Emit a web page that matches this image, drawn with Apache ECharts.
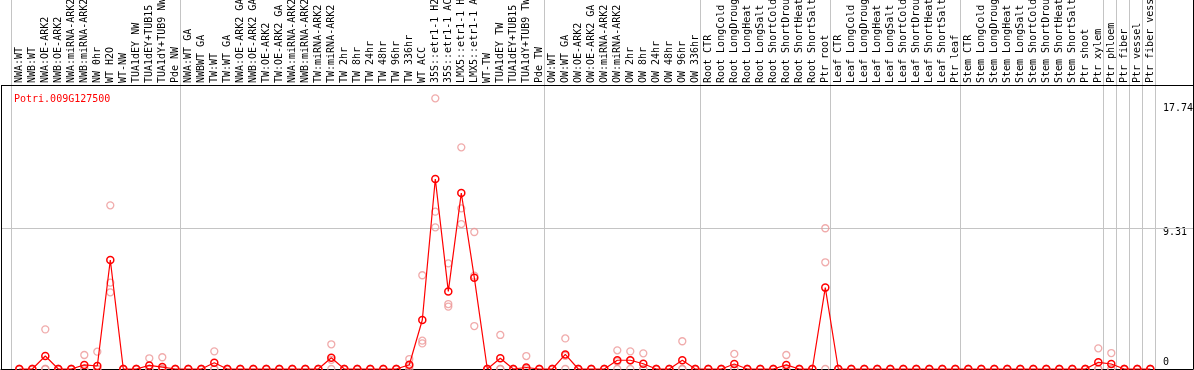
<!DOCTYPE html>
<html>
<head>
<meta charset="utf-8">
<script src="https://cdn.jsdelivr.net/npm/echarts@6/dist/echarts.min.js"></script>
<style>
html,body{margin:0;padding:0;background:#fff;}
#chart{width:1194px;height:370px;}
</style>
</head>
<body>
<div id="chart"></div>
<script>
const geneName = 'Potri.009G127500';
const categories = [
 'NWA:WT','NWB:WT','NWA:OE-ARK2','NWB:OE-ARK2','NWA:miRNA-ARK2','NWB:miRNA-ARK2','NW 0hr','WT H2O','WT-NW','TUA1dEY NW',
 'TUA1dEY+TUB15 NW','TUA1dY+TUB9 NW','Pde NW','NWA:WT GA','NWBWT GA','TW:WT','TW:WT GA','NWA:OE-ARK2 GA','NWB:OE-ARK2 GA','TW:OE-ARK2',
 'TW:OE-ARK2 GA','NWA:miRNA-ARK2','NWB:miRNA-ARK2','TW:miRNA-ARK2','TW:miRNA-ARK2','TW 2hr','TW 8hr','TW 24hr','TW 48hr','TW 96hr',
 'TW 336hr','WT ACC','35S::etr1-1 H2O','35S::etr1-1 ACC','LMX5::etr1-1 H2O','LMX5::etr1-1 ACC','WT-TW','TUA1dEY TW','TUA1dEY+TUB15 TW','TUA1dY+TUB9 TW',
 'Pde TW','OW:WT','OW:WT GA','OW:OE-ARK2','OW:OE-ARK2 GA','OW:miRNA-ARK2','OW:miRNA-ARK2','OW 2hr','OW 8hr','OW 24hr',
 'OW 48hr','OW 96hr','OW 336hr','Root CTR','Root LongCold','Root LongDrought','Root LongHeat','Root LongSalt','Root ShortCold','Root ShortDrought',
 'Root ShortHeat','Root ShortSalt','Ptr root','Leaf CTR','Leaf LongCold','Leaf LongDrought','Leaf LongHeat','Leaf LongSalt','Leaf ShortCold','Leaf ShortDrought',
 'Leaf ShortHeat','Leaf ShortSalt','Ptr leaf','Stem CTR','Stem LongCold','Stem LongDrought','Stem LongHeat','Stem LongSalt','Stem ShortCold','Stem ShortDrought',
 'Stem ShortHeat','Stem ShortSalt','Ptr shoot','Ptr xylem','Ptr phloem','Ptr fiber','Ptr vessel','Ptr fiber vessel'
];
const meanValues = [
 0,0,0.86,0,0,0.27,0.2,7.23,0,0,
 0.24,0.13,0,0,0,0.42,0,0,0,0,
 0,0,0,0,0.75,0,0,0,0,0,
 0.28,3.25,12.61,5.15,11.68,6.06,0,0.71,0,0.1,
 0,0,0.97,0,0,0,0.58,0.58,0.35,0,
 0,0.58,0,0,0,0.33,0,0,0,0.27,
 0,0,5.40,0,0,0,0,0,0,0,
 0,0,0,0,0,0,0,0,0,0,
 0,0,0,0.44,0.33,0,0,0
];
const rep1 = [
 0,0,2.63,0,0,0.93,1.15,10.86,0,0,
 0.71,0.78,0,0,0,1.17,0,0,0,0,
 0,0,0,0,1.64,0,0,0,0,0,
 0.66,6.22,17.96,7.01,14.71,9.09,0,2.26,0,0.86,
 0,0,2.03,0,0,0,1.24,1.17,1.04,0,
 0,1.84,0,0,0,1.0,0,0,0,0.93,
 0,0,9.34,0,0,0,0,0,0,0,
 0,0,0,0,0,0,0,0,0,0,
 0,0,0,1.37,1.06,0,0,0
];
const rep2 = [
 0,0,0,0,0,0,0,5.73,0,0,
 0,0,0,0,0,0,0,0,0,0,
 0,0,0,0,0.61,0,0,0,0,0,
 0.18,1.88,10.44,4.31,10.66,6.19,0,0,0,0,
 0,0,0.88,0,0,0,0.5,0.57,0,0,
 0,0,0,0,0,0,0,0,0,0,
 0,0,7.08,0,0,0,0,0,0,0,
 0,0,0,0,0,0,0,0,0,0,
 0,0,0,0,0,0,0,0
];
const rep3 = [
 0,0,0,0,0,0,0,5.09,0,0,
 0,0,0,0,0,0,0,0,0,0,
 0,0,0,0,0,0,0,0,0,0,
 0,1.70,9.40,4.14,9.62,2.85,0,0,0,0,
 0,0,0,0,0,0,0,0,0,0,
 0,0,0,0,0,0,0,0,0,0,
 0,0,0,0,0,0,0,0,0,0,
 0,0,0,0,0,0,0,0,0,0,
 0,0,0,0,0,0,0,0
];
// group separators: placed after these category indices
const separatorsAfter = [-1, 12, 40, 52, 62, 72, 83, 84, 85, 86, 87];
const yTickValues = [0, 9.31, 17.74];

const FONT = 'DejaVu Sans Mono';
const X_MIN = -1.408, X_MAX = 90.285;
const Y_MAX = 24.486;       // top of canvas
const PLOT_TOP = 18.845;    // divider between labels and plot
const SEP_OFFSET = 0.37;

const chart = echarts.init(document.getElementById('chart'), null, {renderer: 'canvas'});

const toPts = arr => arr.map((v, i) => [i, v]);

const markLines = [];
separatorsAfter.forEach(k => markLines.push({xAxis: k + SEP_OFFSET, lineStyle: {color: '#c4c4c4', width: 1, type: 'solid'}}));
markLines.push({yAxis: yTickValues[1], lineStyle: {color: '#c4c4c4', width: 1, type: 'solid'}});
markLines.push({yAxis: PLOT_TOP, lineStyle: {color: '#000', width: 1, type: 'solid'}});
markLines.push({yAxis: Y_MAX, lineStyle: {color: '#000', width: 1, type: 'solid'}});
markLines.push([{coord: [X_MIN, 0], lineStyle: {color: '#000', width: 1, type: 'solid'}}, {coord: [X_MIN, PLOT_TOP]}]);

const repStyle = {
  type: 'scatter', xAxisIndex: 0, yAxisIndex: 0, symbol: 'circle', symbolSize: 7,
  itemStyle: {color: 'transparent', borderColor: '#ec9696', borderWidth: 1.3},
  silent: true, z: 2, clip: false
};

chart.setOption({
  animation: false,
  backgroundColor: '#fff',
  title: {
    text: geneName, left: 9, top: 89,
    textStyle: {color: '#ff0000', fontSize: 10, fontWeight: 'normal', fontFamily: FONT}
  },
  grid: [
    {left: 1, right: 1, top: 0, bottom: 1, show: false, outerBoundsMode: 'none', containLabel: false},
    {left: 12.8, width: 1144, top: 85, bottom: 1, show: false, outerBoundsMode: 'none', containLabel: false}
  ],
  xAxis: [
    {type: 'value', gridIndex: 0, min: X_MIN, max: X_MAX, position: 'bottom',
     axisLine: {show: true, onZero: false, lineStyle: {color: '#000'}}, axisTick: {show: false},
     axisLabel: {show: false}, splitLine: {show: false}},
    {type: 'category', gridIndex: 1, data: categories, position: 'top', boundaryGap: true,
     axisLine: {show: false, onZero: false}, axisTick: {show: false}, splitLine: {show: false},
     axisLabel: {interval: 0, rotate: -90, margin: 2, color: '#000', fontSize: 10, fontFamily: FONT, hideOverlap: false}}
  ],
  yAxis: [
    {type: 'value', gridIndex: 0, min: 0, max: Y_MAX, position: 'right',
     axisLine: {show: true, onZero: false, lineStyle: {color: '#000'}}, axisTick: {show: false}, splitLine: {show: false},
     axisLabel: {
       inside: true, margin: 30, align: 'left', color: '#000', fontSize: 10, fontFamily: FONT,
       customValues: yTickValues,
       formatter: v => {
         const s = String(v);
         if (v === 0) return '{lo|' + s + '}';
         if (v < 10) return '{mid|' + s + '}';
         return '{hi|' + s + '}';
       },
       rich: {
         lo: {fontSize: 10, fontFamily: FONT, color: '#000', padding: [0, 0, 14, 0]},
         mid: {fontSize: 10, fontFamily: FONT, color: '#000', padding: [8, 0, 0, 0]},
         hi: {fontSize: 10, fontFamily: FONT, color: '#000', padding: [13, 0, 0, 0]}
       }
     }},
    {type: 'value', gridIndex: 1, show: false}
  ],
  series: [
    Object.assign({name: 'rep1', data: toPts(rep1)}, repStyle),
    Object.assign({name: 'rep2', data: toPts(rep2)}, repStyle),
    Object.assign({name: 'rep3', data: toPts(rep3)}, repStyle),
    {
      name: 'mean', type: 'line', xAxisIndex: 0, yAxisIndex: 0, data: toPts(meanValues),
      symbol: 'circle', symbolSize: 7, showAllSymbol: true, clip: false, z: 3,
      lineStyle: {color: '#ff0000', width: 1.2},
      itemStyle: {color: 'transparent', borderColor: '#ff0000', borderWidth: 1.5},
      markLine: {silent: true, symbol: 'none', label: {show: false}, animation: false, data: markLines, z: 1}
    }
  ]
});
</script>
</body>
</html>
